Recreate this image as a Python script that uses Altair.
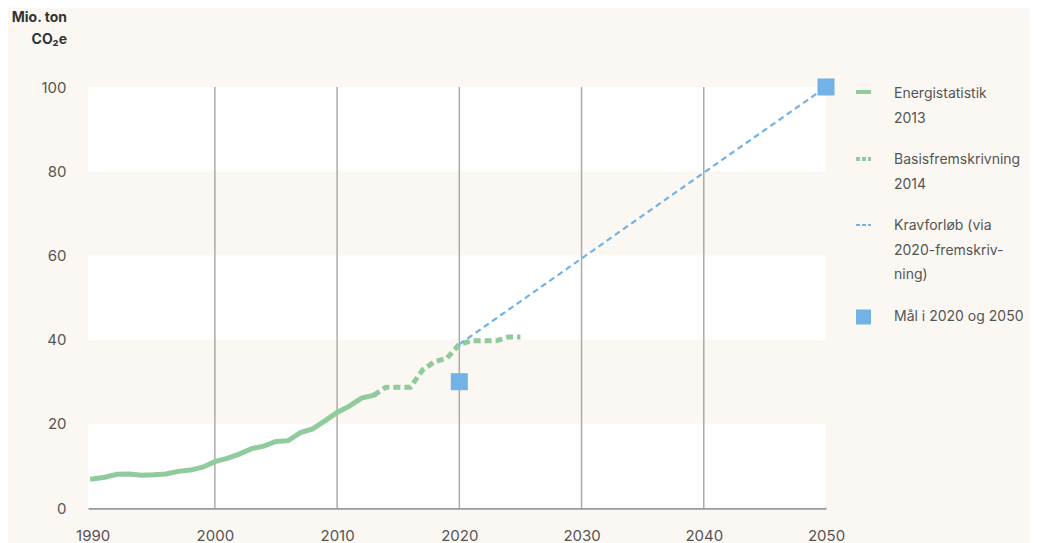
import altair as alt
import pandas as pd

# ---- data ----
hist_years = [1990, 1991, 1992, 1993, 1994, 1995, 1996, 1997, 1998, 1999, 2000, 2001,
              2002, 2003, 2004, 2005, 2006, 2007, 2008, 2009, 2010, 2011, 2012, 2013]
hist_values = [6.9, 7.3, 8.0, 8.1, 7.8, 7.9, 8.1, 8.7, 9.0, 9.7, 11.0, 11.8,
               12.8, 14.1, 14.7, 15.8, 16.0, 17.9, 18.8, 20.7, 22.7, 24.2, 26.1, 26.8]
proj_years = [2013, 2014, 2015, 2016, 2017, 2018, 2019, 2020, 2021, 2022, 2023, 2024, 2025]
proj_values = [26.8, 28.7, 28.7, 28.7, 32.8, 34.8, 35.6, 38.9, 39.7, 39.7, 39.7, 40.6, 40.6]
krav_years = [2020, 2050]
krav_values = [38.9, 100]
goal_years = [2020, 2050]
goal_values = [30, 100]
grid_years = [2000, 2010, 2020, 2030, 2040]
x_ticks = [1990, 2000, 2010, 2020, 2030, 2040, 2050]
y_ticks = [0, 20, 40, 60, 80, 100]
band_low = [0, 40, 80]
band_high = [20, 60, 100]

legend_1 = ["Energistatistik", "2013"]
legend_2 = ["Basisfremskrivning", "2014"]
legend_3 = ["Kravforløb (via", "2020-fremskriv-", "ning)"]
legend_4 = ["Mål i 2020 og 2050"]
y_title = ["Mio. ton", "CO₂e"]

GREEN = "#8fcb9c"
BLUE = "#72b2e6"
BG = "#fbf8f3"
TXT = "#555555"
FONT = "Inter"
W, H = 738, 421

hist = pd.DataFrame({"year": hist_years, "value": hist_values})
proj = pd.DataFrame({"year": proj_years, "value": proj_values})
krav = pd.DataFrame({"year": krav_years, "value": krav_values})
goal = pd.DataFrame({"year": goal_years, "value": goal_values})
grid = pd.DataFrame({"year": grid_years})
bands = pd.DataFrame({"lo": band_low, "hi": band_high})

xscale = alt.Scale(domain=[1989.62, 2050], nice=False, zero=False)
yscale = alt.Scale(domain=[0, 100], nice=False)

xaxis = alt.Axis(values=x_ticks, format="d", grid=False, ticks=False,
                 domainColor="#9a9a9a", domainWidth=2.5, labelPadding=20,
                 labelFontSize=15, labelColor=TXT, labelFont=FONT, title=None,
                 labelFlush=False)
yaxis = alt.Axis(values=y_ticks, grid=False, ticks=False, domain=False,
                 labelPadding=22, labelFontSize=15, labelColor=TXT, labelFont=FONT,
                 title=None)

band_layer = alt.Chart(bands).mark_rect(color="white").encode(
    x=alt.value(0), x2=alt.value(W),
    y=alt.Y("lo:Q", scale=yscale, axis=yaxis), y2="hi:Q")

grid_layer = alt.Chart(grid).mark_rule(color="#ababab", strokeWidth=1.5).encode(
    x=alt.X("year:Q", scale=xscale, axis=xaxis), y=alt.value(0), y2=alt.value(H))

hist_layer = alt.Chart(hist).mark_line(color=GREEN, strokeWidth=5, strokeCap="square").encode(
    x=alt.X("year:Q", scale=xscale), y=alt.Y("value:Q", scale=yscale))

proj_layer = alt.Chart(proj).mark_line(color=GREEN, strokeWidth=5, strokeDash=[7, 4]).encode(
    x=alt.X("year:Q", scale=xscale), y=alt.Y("value:Q", scale=yscale))

krav_layer = alt.Chart(krav).mark_line(color=BLUE, strokeWidth=2.2, strokeDash=[6, 4]).encode(
    x=alt.X("year:Q", scale=xscale), y=alt.Y("value:Q", scale=yscale))

goal_layer = alt.Chart(goal).mark_square(color=BLUE, opacity=1, size=290).encode(
    x=alt.X("year:Q", scale=xscale), y=alt.Y("value:Q", scale=yscale))

layers = [band_layer, grid_layer, hist_layer, proj_layer, krav_layer, goal_layer]

one = pd.DataFrame({"a": [0]})

# y-axis title
for i, t in enumerate(y_title):
    layers.append(alt.Chart(one).mark_text(
        align="right", baseline="middle", fontSize=14, fontWeight="bold",
        color="#333333", font=FONT).encode(
        x=alt.value(-21), y=alt.value(-69 + 22 * i), text=alt.value(t)))

# legend symbols
SX0, SX1 = 768, 783
layers.append(alt.Chart(one).mark_rule(color=GREEN, strokeWidth=4).encode(
    x=alt.value(SX0), x2=alt.value(SX1), y=alt.value(5)))
layers.append(alt.Chart(one).mark_rule(color=GREEN, strokeWidth=4, strokeDash=[4, 2]).encode(
    x=alt.value(SX0), x2=alt.value(SX1), y=alt.value(72)))
layers.append(alt.Chart(one).mark_rule(color=BLUE, strokeWidth=2, strokeDash=[4, 2]).encode(
    x=alt.value(SX0), x2=alt.value(SX1), y=alt.value(138)))
layers.append(alt.Chart(one).mark_square(color=BLUE, opacity=1, size=225).encode(
    x=alt.value((SX0 + SX1) / 2), y=alt.value(230)))

# legend labels
TX = 806
rows = [(legend_1, 7), (legend_2, 73), (legend_3, 139), (legend_4, 230)]
for lines, y0 in rows:
    for j, t in enumerate(lines):
        layers.append(alt.Chart(one).mark_text(
            align="left", baseline="middle", fontSize=14, color=TXT, font=FONT).encode(
            x=alt.value(TX), y=alt.value(y0 + 24.5 * j), text=alt.value(t)))

chart = alt.layer(*layers).properties(
    width=W, height=H,
    autosize=alt.AutoSizeParams(type="none"),
    padding={"left": 80, "top": 79, "right": 203, "bottom": 40},
    background=BG,
).configure_view(stroke=None, fill=None)

chart.save("out.html", embed_options={"renderer": "svg", "actions": False})
